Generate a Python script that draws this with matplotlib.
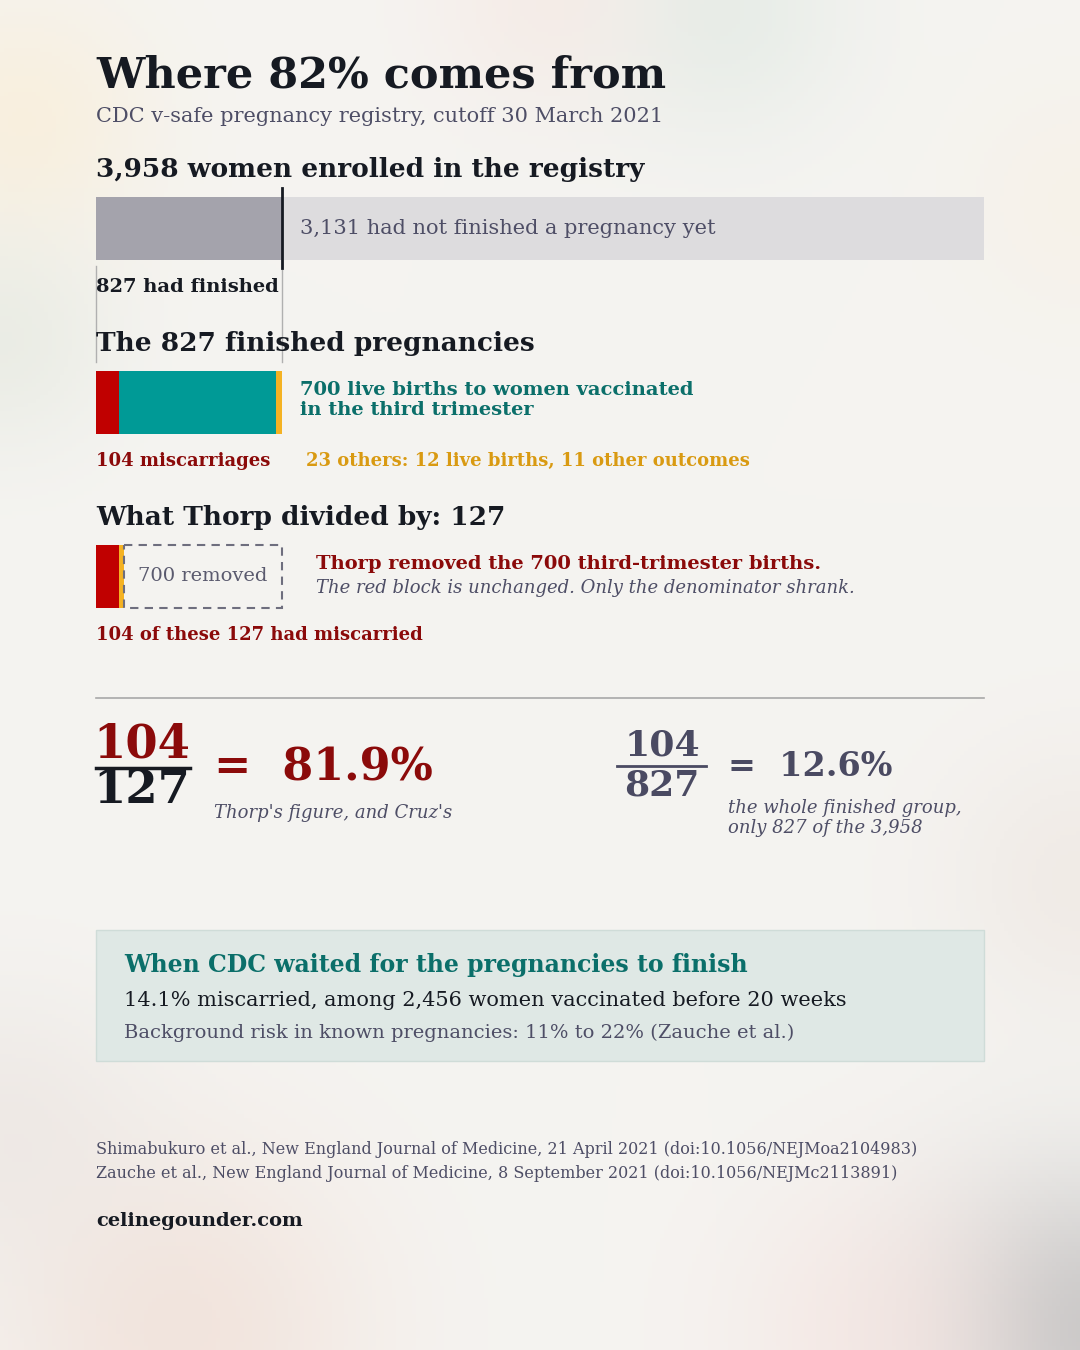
import numpy as np
import matplotlib
matplotlib.use("Agg")
import matplotlib.pyplot as plt
from matplotlib.patches import Rectangle

plt.rcParams['font.family'] = ['DejaVu Serif']

# data
enrolled = 3958
finished = 827
not_finished = 3131
outcome_labels = ["miscarriages", "third-trimester live births", "others"]
outcome_values = [104, 700, 23]
thorp_values = [104, 23]
removed = 700
thorp_pct = 81.9
whole_pct = 12.6

W, H = 1080, 1350
fig = plt.figure(figsize=(10.8, 13.5), dpi=100)
ax = fig.add_axes([0, 0, 1, 1])
ax.set_xlim(0, W)
ax.set_ylim(H, 0)
ax.axis("off")

# soft background with faint blobs
yy, xx = np.mgrid[0:H:4, 0:W:4]
bg = np.ones((yy.shape[0], yy.shape[1], 3)) * np.array([245, 244, 241]) / 255
blobs = [(20, 120, 90, (250, 238, 215), 0.7), (720, 10, 90, (226, 234, 228), 0.7),
         (540, 0, 80, (246, 230, 224), 0.5), (1080, 1330, 110, (195, 195, 195), 0.9),
         (180, 1330, 130, (240, 218, 208), 0.6), (880, 1330, 110, (246, 224, 220), 0.5),
         (1080, 880, 100, (236, 226, 220), 0.5), (0, 340, 80, (228, 232, 222), 0.6),
         (0, 1130, 100, (232, 224, 220), 0.5), (1080, 200, 90, (248, 240, 226), 0.5)]
for cx, cy, r, col, a in blobs:
    w = a * np.exp(-((xx - cx) ** 2 + (yy - cy) ** 2) / (2 * r ** 2))[..., None]
    bg = bg * (1 - w) + w * np.array(col) / 255
ax.imshow(bg, extent=[0, W, H, 0], zorder=0, aspect="auto")

X0, X1 = 96, 984
scale = (X1 - X0) / enrolled

dark = "#161a22"
gray = "#4e4e66"
red = "#c00000"
dred = "#8b0a0a"
teal = "#009a96"
tealtxt = "#0b6f6a"
gold = "#f4b223"
goldtxt = "#d99a12"

ax.text(X0, 75, "Where 82% comes from", fontsize=31, fontweight="bold", color=dark, va="center")
ax.text(X0, 116, "CDC v-safe pregnancy registry, cutoff 30 March 2021", fontsize=15, color=gray, va="center")

# section 1
ax.text(X0, 169, f"{enrolled:,} women enrolled in the registry", fontsize=19, fontweight="bold", color=dark, va="center")
ax.barh(228, finished * scale, left=X0, height=63, color="#a4a3ac", zorder=2)
ax.barh(228, not_finished * scale, left=X0 + finished * scale, height=63, color="#dddcde", zorder=2)
xs = X0 + finished * scale
ax.plot([xs, xs], [188, 268], color=dark, lw=2, zorder=3)
ax.plot([X0, X0], [266, 362], color="#b0b0b0", lw=1, zorder=1)
ax.plot([xs, xs], [270, 362], color="#b0b0b0", lw=1, zorder=1)
ax.text(xs + 18, 228, f"{not_finished:,} had not finished a pregnancy yet", fontsize=15, color=gray, va="center", zorder=4)
ax.text(X0, 287, f"{finished} had finished", fontsize=14, fontweight="bold", color=dark, va="center")

# section 2
ax.text(X0, 343, f"The {finished} finished pregnancies", fontsize=19, fontweight="bold", color=dark, va="center")
left = X0
for v, c in zip(outcome_values, [red, teal, gold]):
    ax.barh(402, v * scale, left=left, height=63, color=c, zorder=2)
    left += v * scale
ax.text(xs + 18, 400, f"{outcome_values[1]} live births to women vaccinated\nin the third trimester",
        fontsize=14, fontweight="bold", color=tealtxt, va="center", linespacing=1.15)
ax.text(X0, 461, f"{outcome_values[0]} miscarriages", fontsize=13, fontweight="bold", color=dred, va="center")
ax.text(306, 461, f"{outcome_values[2]} others: 12 live births, 11 other outcomes", fontsize=13, fontweight="bold", color=goldtxt, va="center")

# section 3
denom = sum(thorp_values)
ax.text(X0, 517, f"What Thorp divided by: {denom}", fontsize=19, fontweight="bold", color=dark, va="center")
left = X0
for v, c in zip(thorp_values, [red, gold]):
    ax.barh(576, v * scale, left=left, height=63, color=c, zorder=2)
    left += v * scale
ax.add_patch(Rectangle((left, 544.5), removed * scale, 63, fill=False, ec="#6e6e7e", lw=1.5, ls=(0, (4, 3)), zorder=3))
ax.text(left + removed * scale / 2, 576, f"{removed} removed", fontsize=14, color="#5a5a6e", va="center", ha="center")
ax.text(316, 564, "Thorp removed the 700 third-trimester births.", fontsize=14, fontweight="bold", color=dred, va="center")
ax.text(316, 588, "The red block is unchanged. Only the denominator shrank.", fontsize=13, style="italic", color=gray, va="center")
ax.text(X0, 635, f"{thorp_values[0]} of these {denom} had miscarried", fontsize=13, fontweight="bold", color=dred, va="center")

ax.plot([X0, X1], [698, 698], color="#a8a8a8", lw=1.2)

# fractions
ax.text(142, 745, str(thorp_values[0]), fontsize=33.5, fontweight="bold", color=dred, ha="center", va="center")
ax.plot([96, 190], [768, 768], color=dark, lw=2.5)
ax.text(142, 790, str(denom), fontsize=33.5, fontweight="bold", color=dark, ha="center", va="center")
ax.text(214, 768, f"=  {thorp_pct}%", fontsize=32, fontweight="bold", color=dred, va="center")
ax.text(214, 813, "Thorp's figure, and Cruz's", fontsize=13, style="italic", color=gray, va="center")

ax.text(662, 745, str(thorp_values[0]), fontsize=26, fontweight="bold", color="#4a4a62", ha="center", va="center")
ax.plot([617, 706], [766, 766], color="#4a4a62", lw=2)
ax.text(662, 786, str(finished), fontsize=26, fontweight="bold", color="#4a4a62", ha="center", va="center")
ax.text(728, 767, f"=  {whole_pct}%", fontsize=24, fontweight="bold", color="#4a4a62", va="center")
ax.text(728, 818, f"the whole finished group,\nonly {finished} of the {enrolled:,}", fontsize=13, style="italic",
        color=gray, va="center", linespacing=1.2)

# callout box
ax.add_patch(Rectangle((X0, 930), X1 - X0, 131, fc="#dfe8e5", ec="#cfdcd8", lw=1, zorder=1))
ax.text(124, 965, "When CDC waited for the pregnancies to finish", fontsize=17, fontweight="bold", color=tealtxt, va="center", zorder=2)
ax.text(124, 1001, "14.1% miscarried, among 2,456 women vaccinated before 20 weeks", fontsize=15, color=dark, va="center", zorder=2)
ax.text(124, 1033, "Background risk in known pregnancies: 11% to 22% (Zauche et al.)", fontsize=14, color=gray, va="center", zorder=2)

# sources
ax.text(X0, 1149, "Shimabukuro et al., New England Journal of Medicine, 21 April 2021 (doi:10.1056/NEJMoa2104983)",
        fontsize=11.5, color=gray, va="center")
ax.text(X0, 1173, "Zauche et al., New England Journal of Medicine, 8 September 2021 (doi:10.1056/NEJMc2113891)",
        fontsize=11.5, color=gray, va="center")
ax.text(X0, 1221, "celinegounder.com", fontsize=14, fontweight="bold", color=dark, va="center")

fig.savefig("out.png", dpi=100)
